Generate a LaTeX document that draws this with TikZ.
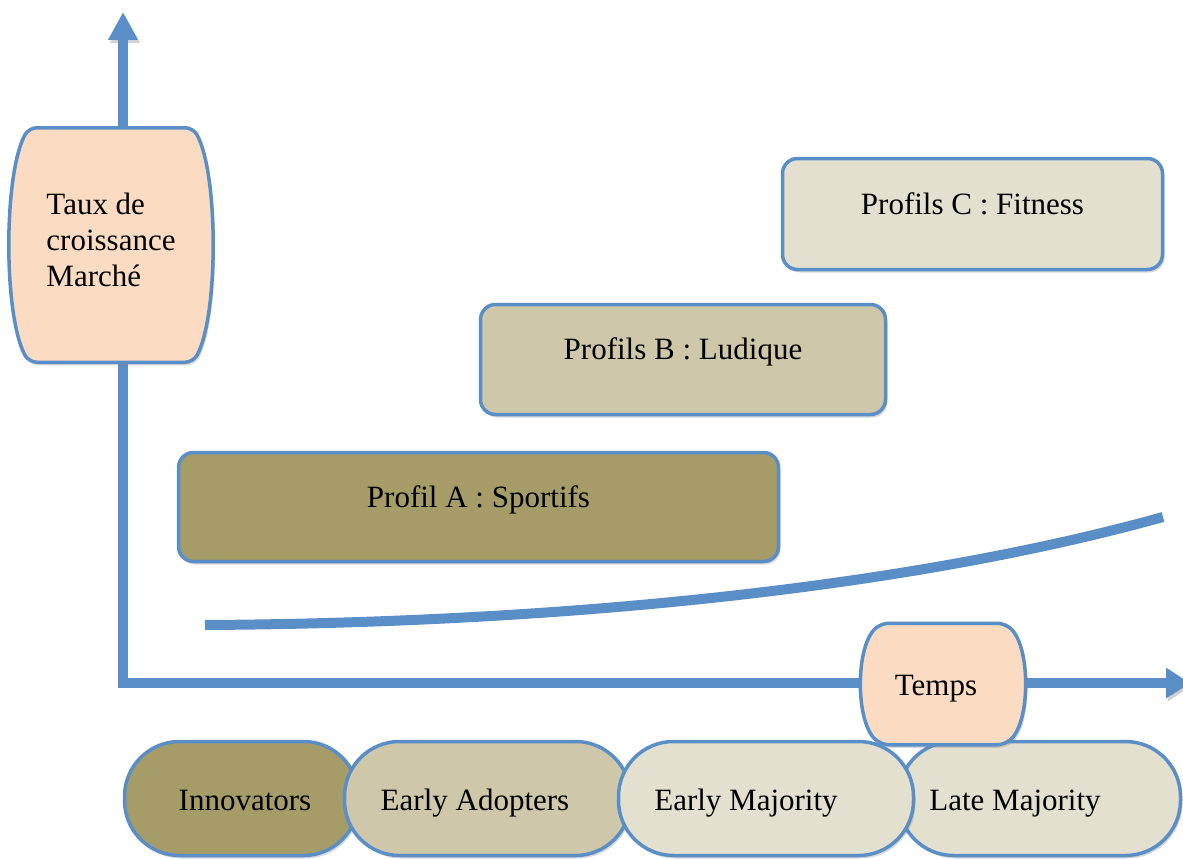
\documentclass[tikz,border=0pt]{standalone}
\usepackage{fontspec}
\setmainfont{Liberation Serif}
\usetikzlibrary{arrows.meta,shadows}

\makeatletter
\pgfdeclareshape{barrel}{%
  \inheritsavedanchors[from=rectangle]%
  \inheritanchorborder[from=rectangle]%
  \inheritanchor[from=rectangle]{center}%
  \inheritanchor[from=rectangle]{north}%
  \inheritanchor[from=rectangle]{south}%
  \inheritanchor[from=rectangle]{east}%
  \inheritanchor[from=rectangle]{west}%
  \inheritanchor[from=rectangle]{north east}%
  \inheritanchor[from=rectangle]{north west}%
  \inheritanchor[from=rectangle]{south east}%
  \inheritanchor[from=rectangle]{south west}%
  \inheritanchor[from=rectangle]{text}%
  \inheritanchor[from=rectangle]{base}%
  \inheritanchor[from=rectangle]{mid}%
  \backgroundpath{%
    \southwest \edef\brl@xa{\the\pgf@x}\edef\brl@ya{\the\pgf@y}%
    \northeast \edef\brl@xb{\the\pgf@x}\edef\brl@yb{\the\pgf@y}%
    \pgf@yc=\brl@yb \advance\pgf@yc by -\brl@ya \pgf@yc=0.2\pgf@yc
    \edef\brl@h{\the\pgf@yc}%
    \pgf@xc=\brl@xa \advance\pgf@xc by \brl@xb \pgf@xc=0.5\pgf@xc
    \edef\brl@mid{\the\pgf@xc}%
    \def\brl@b{19pt}%
    \pgfsetcornersarced{\pgfqpoint{8pt}{8pt}}%
    \pgfpathmoveto{\pgfqpoint{\brl@mid}{\brl@yb}}%
    \pgfpathlineto{\pgfqpoint{\dimexpr\brl@xb-\brl@b\relax}{\brl@yb}}%
    \pgfpathcurveto{\pgfqpoint{\dimexpr\brl@xb+\brl@b/3\relax}{\dimexpr\brl@yb-\brl@h\relax}}%
                   {\pgfqpoint{\dimexpr\brl@xb+\brl@b/3\relax}{\dimexpr\brl@ya+\brl@h\relax}}%
                   {\pgfqpoint{\dimexpr\brl@xb-\brl@b\relax}{\brl@ya}}%
    \pgfpathlineto{\pgfqpoint{\dimexpr\brl@xa+\brl@b\relax}{\brl@ya}}%
    \pgfpathcurveto{\pgfqpoint{\dimexpr\brl@xa-\brl@b/3\relax}{\dimexpr\brl@ya+\brl@h\relax}}%
                   {\pgfqpoint{\dimexpr\brl@xa-\brl@b/3\relax}{\dimexpr\brl@yb-\brl@h\relax}}%
                   {\pgfqpoint{\dimexpr\brl@xa+\brl@b\relax}{\brl@yb}}%
    \pgfpathclose
  }%
}
\makeatother

\definecolor{axblue}{HTML}{5A8EC6}
\definecolor{olivefill}{HTML}{A69C68}
\definecolor{tanfill}{HTML}{CFC7A9}
\definecolor{lightfill}{HTML}{E3E0D0}
\definecolor{peachfill}{HTML}{FBDCC3}

\begin{document}
\begin{tikzpicture}[x=1pt,y=-1pt,
  every node/.style={font=\fontsize{31}{36}\selectfont, inner sep=0pt},
  sshadow/.style={drop shadow={opacity=0.3, shadow xshift=2pt, shadow yshift=-3pt}},
  lshadow/.style={preaction={draw=black!70, opacity=0.25, transform canvas={xshift=2pt,yshift=-3pt}}},
  axisline/.style={draw=axblue, line width=10pt, line join=miter,
    arrows={Triangle[width=28pt,length=28pt]-Triangle[width=29pt,length=24pt]}},
  curveline/.style={draw=axblue, line width=10pt, line cap=butt},
  profbox/.style={rectangle, rounded corners=15pt, draw=axblue, line width=3.5pt, sshadow,
    text height=21pt, text depth=21pt},
  stage/.style={rectangle, rounded corners=55pt, draw=axblue, line width=3.5pt, sshadow,
    minimum height=114pt, text height=30pt, text depth=6.5pt},
  barrelnode/.style={shape=barrel, draw=axblue, line width=3.5pt, sshadow, fill=peachfill}
]
\useasboundingbox (0,0) rectangle (1183,859);

% axes
\coordinate (ytip) at (123,12);
\coordinate (origin) at (123,683);
\coordinate (xtip) at (1190,683);
\draw[axisline, lshadow] (ytip) -- (origin) -- (xtip);

% growth curve
\coordinate (cstart) at (205,625);
\coordinate (cend) at (1163,517);
\draw[curveline, lshadow] (cstart) .. controls (550,623) and (900,590) .. (cend);

% profile boxes
\node[profbox, fill=olivefill, minimum width=600pt, minimum height=109pt] (profA) at (478.5,507) {Profil A : Sportifs};
\node[profbox, fill=tanfill, minimum width=405pt, minimum height=110pt] (profB) at (683,359.5) {Profils B : Ludique};
\node[profbox, fill=lightfill, minimum width=380pt, minimum height=111pt] (profC) at (972.5,214) {Profils C : Fitness};

% y axis label
\node[barrelnode, minimum width=199pt, minimum height=231pt, align=left] (taux) at (111,245) {Taux de\\croissance\\Marché\rule[-10pt]{0pt}{10pt}};

% adoption stages
\node[stage, fill=olivefill, minimum width=234pt] (innov) at (241.5,798.5) {\hspace{7pt}Innovators};
\node[stage, fill=tanfill, minimum width=286pt] (adopt) at (487.5,798.5) {Early Adopters\kern25pt\null};
\node[stage, fill=lightfill, minimum width=282pt] (late) at (1039.5,798.5) {Late Majority\kern49pt\null};
\node[stage, fill=lightfill, minimum width=295pt] (early) at (766,798.5) {Early Majority\kern40pt\null};

% x axis label
\node[barrelnode, minimum width=159pt, minimum height=118pt, text height=29pt, text depth=6.5pt] (temps) at (943,684) {Temps\kern14pt\null};
\end{tikzpicture}
\end{document}
